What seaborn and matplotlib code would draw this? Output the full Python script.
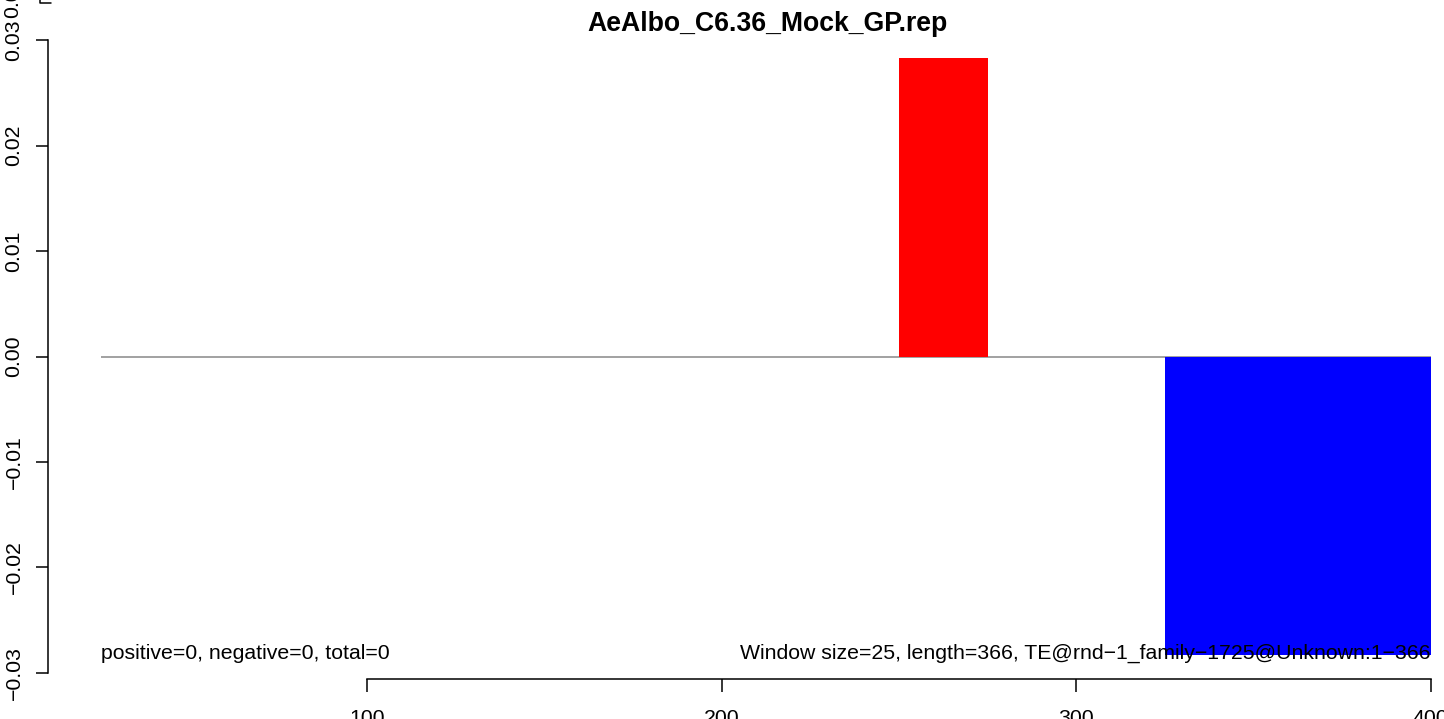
import numpy as np
import pandas as pd
import matplotlib
matplotlib.use("Agg")
import matplotlib.pyplot as plt
import seaborn as sns

# ---------------- data ----------------
title = "AeAlbo_C6.36_Mock_GP.rep"
window_size = 25
window_start = [25, 50, 75, 100, 125, 150, 175, 200, 225, 250, 275, 300, 325, 350, 375]
pos_values = [0, 0, 0, 0, 0, 0, 0, 0, 0, 0.0283, 0, 0, 0, 0, 0]
neg_values = [0, 0, 0, 0, 0, 0, 0, 0, 0, 0, 0, 0, -0.0283, -0.0283, -0.0283]
x_ticks = [100, 200, 300, 400]
x_tick_labels = ["100", "200", "300", "400"]
y_ticks = [-0.03, -0.02, -0.01, 0.00, 0.01, 0.02, 0.03]
y_tick_labels = ["\u22120.03", "\u22120.02", "\u22120.01", "0.00", "0.01", "0.02", "0.03"]
left_note = "positive=0, negative=0, total=0"
right_note = "Window size=25, length=366, TE@rnd\u22121_family\u22121725@Unknown:1\u2212366"

# ---------------- style ----------------
sns.set_theme(style="white")
plt.rcParams["font.family"] = ["Liberation Sans", "DejaVu Sans"]
plt.rcParams["text.color"] = "black"
plt.rcParams["axes.labelcolor"] = "black"
plt.rcParams["xtick.color"] = "black"
plt.rcParams["ytick.color"] = "black"
FS = 15.3

W, H = 1444, 719
fig = plt.figure(figsize=(W / 100, H / 100), dpi=100)
fig.patch.set_facecolor("white")

# axes region (in pixels) mimicking R's plot region
x0_px, x1_px = 47.8, 1484.0
y_top_px, y_bot_px = 34.1, 678.9
ax = fig.add_axes([x0_px / W, 1 - y_bot_px / H, (x1_px - x0_px) / W, (y_bot_px - y_top_px) / H])
ax.set_facecolor("none")

centers = [s + window_size / 2 for s in window_start]
df = pd.DataFrame({
    "pos": centers * 2,
    "value": pos_values + neg_values,
    "sign": ["positive"] * len(centers) + ["negative"] * len(centers),
})

# zero reference line
ax.hlines(0, window_start[0], window_start[-1] + window_size, color="#9a9a9a", lw=1.3, zorder=1)

sns.barplot(data=df, x="pos", y="value", hue="sign", native_scale=True,
            palette={"positive": "#ff0000", "negative": "#0000ff"},
            saturation=1, dodge=False, width=1.0, errorbar=None, linewidth=0,
            legend=False, ax=ax, zorder=2)
for p in ax.patches:
    p.set_antialiased(False)
    p.set_zorder(2)

ax.set_xlim(10, 415)
ax.set_ylim(-0.03056, 0.03056)
ax.set_xlabel("")
ax.set_ylabel("")

# R-style axes
for side in ["top", "right"]:
    ax.spines[side].set_visible(False)
for side in ["left", "bottom"]:
    ax.spines[side].set_visible(True)
    ax.spines[side].set_color("black")
    ax.spines[side].set_linewidth(1.1)
ax.spines["left"].set_bounds(y_ticks[0], y_ticks[-1])
ax.spines["bottom"].set_bounds(x_ticks[0], x_ticks[-1])

ax.set_xticks(x_ticks)
ax.set_xticklabels(x_tick_labels, fontsize=FS)
ax.set_yticks(y_ticks)
ax.set_yticklabels(y_tick_labels, fontsize=FS, rotation=90, va="center")
ax.tick_params(axis="both", which="major", direction="out", length=9, width=1.1,
               color="black", labelcolor="black", left=True, bottom=True)
ax.tick_params(axis="x", pad=13)
ax.tick_params(axis="y", pad=8.5)

# annotations
ax.text(window_start[0], -0.02865, left_note, fontsize=FS, ha="left", va="baseline", zorder=5)
ax.text(window_start[-1] + window_size, -0.02865, right_note, fontsize=FS, ha="right",
        va="baseline", zorder=5)

fig.text(767.5 / W, 1 - 31 / H, title, fontsize=19.2, fontweight="bold",
         ha="center", va="baseline")

# leftover overlapping axis fragment at the very top-left of the original
fig.text(12.5 / W, 1 - 18 / H, "0.035", fontsize=FS, rotation=90, ha="center", va="bottom")
fig.add_artist(plt.Line2D([40 / W, 40 / W, 51 / W], [1.0, 1 - 3 / H, 1 - 3 / H],
                          color="black", lw=1.1))

fig.savefig("out.png", dpi=100, facecolor="white")
